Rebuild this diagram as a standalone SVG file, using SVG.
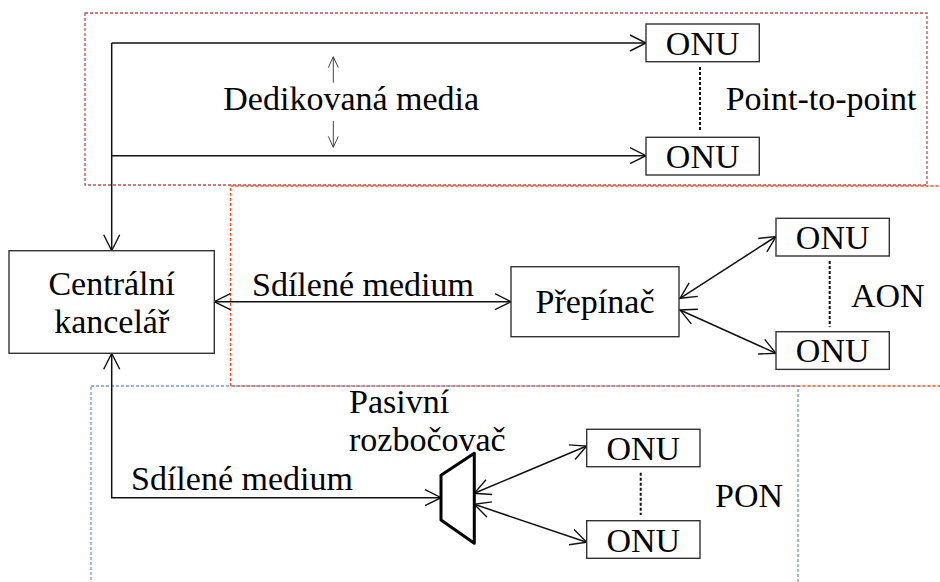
<svg xmlns="http://www.w3.org/2000/svg" width="940" height="582" viewBox="0 0 940 582">
<style>
text{font-family:"Liberation Serif","Times New Roman",serif;font-size:34px;fill:#000}
.box{fill:#fff;stroke:#333;stroke-width:1.4}
.ln{fill:none;stroke:#111;stroke-width:1.5}
.thin{fill:none;stroke:#444;stroke-width:1}
.dot{fill:none;stroke:#111;stroke-width:2;stroke-dasharray:3 2}
.zone{fill:none;stroke-width:1.3;stroke-dasharray:3 2}
.mid{text-anchor:middle}
</style>
<defs>
<marker id="ah" markerUnits="userSpaceOnUse" viewBox="-18 -10 20 20" refX="0" refY="0" markerWidth="20" markerHeight="20" orient="auto-start-reverse">
<path d="M-16,-8 L0,0 L-16,8" fill="none" stroke="#111" stroke-width="1.4"/>
</marker>
<marker id="sah" markerUnits="userSpaceOnUse" viewBox="-12 -7 14 14" refX="0" refY="0" markerWidth="14" markerHeight="14" orient="auto">
<path d="M-11,-5 L0,0 L-11,5" fill="none" stroke="#444" stroke-width="1"/>
</marker>
</defs>
<g id="zones">
<rect id="zone-p2p" class="zone" x="85" y="13" width="842" height="172" stroke="#c0504d"/>
<rect id="zone-aon" class="zone" x="230.5" y="186" width="730" height="200" stroke="#ff4a1c"/>
<rect id="zone-pon" class="zone" x="91" y="386" width="707" height="220" stroke="#6f9bd1"/>
</g>
<g id="connectors">
<path class="ln" d="M111.7,43 H646" marker-end="url(#ah)"/>
<path class="ln" d="M111.7,155.7 H646" marker-end="url(#ah)"/>
<path class="ln" d="M111.7,43 V250.7" marker-end="url(#ah)"/>
<path class="ln" d="M214.3,301.7 H511" marker-start="url(#ah)" marker-end="url(#ah)"/>
<path class="ln" d="M680,298.3 L776,236.5" marker-start="url(#ah)" marker-end="url(#ah)"/>
<path class="ln" d="M680,310 L776,353.3" marker-start="url(#ah)" marker-end="url(#ah)"/>
<path class="ln" d="M111.7,353.3 V497.7 H441" marker-start="url(#ah)" marker-end="url(#ah)"/>
<path class="ln" d="M474.3,493.3 L586.7,446" marker-start="url(#ah)" marker-end="url(#ah)"/>
<path class="ln" d="M474.3,504.3 L586.7,542.3" marker-start="url(#ah)" marker-end="url(#ah)"/>
<path class="thin" d="M333.3,82.7 V56.7" marker-end="url(#sah)"/>
<path class="thin" d="M333.3,121 V147.3" marker-end="url(#sah)"/>
<path class="dot" d="M700,67 V131"/>
<path class="dot" d="M829.7,261 V326.7"/>
<path class="dot" d="M640.7,472.7 V515"/>
</g>
<g id="labels">
<text x="223.3" y="110">Dedikovaná media</text>
<text x="725.7" y="110">Point-to-point</text>
<text x="252" y="295.5">Sdílené medium</text>
<text x="851" y="307.3">AON</text>
<text x="349" y="412.7">Pasivní</text>
<text x="349" y="450.7">rozbočovač</text>
<text x="131" y="490">Sdílené medium</text>
<text x="715" y="506.7">PON</text>
</g>
<g id="onu-p2p-1"><rect class="box" x="646" y="24" width="113.3" height="37.7"/><text class="mid" x="702.7" y="55">ONU</text></g>
<g id="onu-p2p-2"><rect class="box" x="646" y="137.3" width="113.3" height="37.7"/><text class="mid" x="702.7" y="167.7">ONU</text></g>
<g id="central"><rect class="box" x="9" y="250.7" width="205.3" height="102.6"/><text class="mid" x="111.7" y="295">Centrální</text><text class="mid" x="111.7" y="333.3">kancelář</text></g>
<g id="switch"><rect class="box" x="511" y="266.7" width="168" height="70"/><text class="mid" x="595" y="313.3">Přepínač</text></g>
<g id="onu-aon-1"><rect class="box" x="776" y="218.3" width="113.3" height="37.7"/><text class="mid" x="832.7" y="249">ONU</text></g>
<g id="onu-aon-2"><rect class="box" x="776" y="331.7" width="113.3" height="37.7"/><text class="mid" x="832.7" y="361.7">ONU</text></g>
<g id="splitter"><polygon points="441,475.3 474.3,453.3 474.3,543.3 441,520" fill="#fff" stroke="#000" stroke-width="3" stroke-linejoin="round"/></g>
<g id="onu-pon-1"><rect class="box" x="586.7" y="429.3" width="113.3" height="37.4"/><text class="mid" x="643.3" y="460">ONU</text></g>
<g id="onu-pon-2"><rect class="box" x="586.7" y="520.7" width="113.3" height="37.6"/><text class="mid" x="643.3" y="551.7">ONU</text></g>
</svg>
